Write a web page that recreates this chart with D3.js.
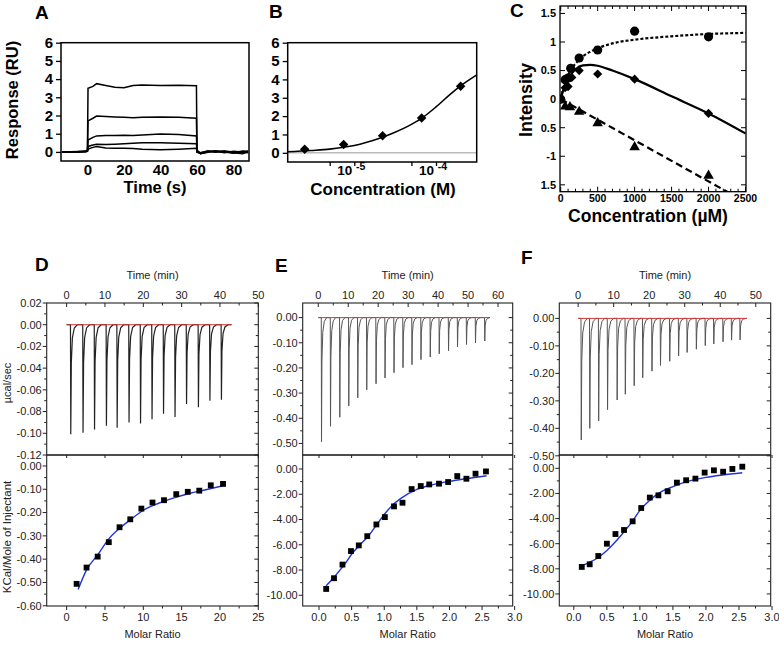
<!DOCTYPE html>
<html><head><meta charset="utf-8">
<script src="https://cdn.jsdelivr.net/npm/d3@7"></script>
<style>
body{margin:0;background:#fff}
svg{display:block}
text{font-family:"Liberation Sans",Arial,sans-serif}
</style>
</head><body>
<svg id="c" width="779" height="645"></svg>
<script>
// ---------------- DATA ----------------
// Panel A: SPR sensorgrams (time in s, response in RU)
const sprTime = [-14, -5, -1, 0, 0.3, 3, 5, 10, 15, 20, 25, 30, 40, 50, 59.7, 60, 62, 66, 70, 75, 80, 85, 88];
const sprCurve1 = [0, 0, 0.02, 0.03, 0.15, 0.25, 0.3, 0.22, 0.2, 0.2, 0.18, 0.15, 0.12, 0.15, 0.2, -0.02, -0.05, 0.05, 0, 0.03, -0.05, -0.1, 0];
const sprCurve2 = [0, 0.02, 0, 0.05, 0.3, 0.38, 0.42, 0.4, 0.42, 0.45, 0.47, 0.5, 0.5, 0.48, 0.45, 0, -0.08, -0.02, 0.05, 0, -0.08, 0.02, 0.05];
const sprCurve3 = [0, 0, 0.03, 0.05, 0.65, 0.8, 0.88, 0.9, 0.9, 0.92, 0.9, 0.93, 0.98, 0.95, 0.88, 0.02, -0.1, 0.02, 0.05, -0.05, 0.03, 0, -0.05];
const sprCurve4 = [0, 0.01, 0.03, 0.08, 1.7, 1.85, 1.97, 1.95, 1.92, 1.9, 1.88, 1.9, 1.92, 1.9, 1.85, 0.05, -0.05, 0.05, -0.02, 0.05, 0, -0.05, 0.02];
const sprCurve5 = [0, 0.02, 0.05, 0.1, 3.5, 3.6, 3.75, 3.65, 3.55, 3.52, 3.65, 3.68, 3.65, 3.66, 3.63, 0.1, -0.1, 0, 0.05, 0.02, -0.05, 0.05, 0];
const sprYTicks = [0, 1, 2, 3, 4, 5, 6];
const sprXTicks = [0, 20, 40, 60, 80];

// Panel B: steady-state response vs concentration (M)
const bConc = [2.47e-6, 7.4e-6, 2.22e-5, 6.67e-5, 2.0e-4];
const bResp = [0.2, 0.45, 0.93, 1.9, 3.63];
const bFitConc = [1.5e-6, 3e-6, 5e-6, 7.4e-6, 1e-5, 2e-5, 3e-5, 5e-5, 7e-5, 1e-4, 1.5e-4, 2e-4, 3.16e-4];
const bFitResp = [0.06, 0.13, 0.2, 0.3, 0.4, 0.78, 1.08, 1.55, 1.95, 2.5, 3.2, 3.65, 4.25];
const bXTicks = [5e-6, 1e-5, 5e-5, 1e-4];
const bXLabels = [1e-5, 1e-4];

// Panel C: intensity vs concentration (µM)
const cCircX = [0, 60, 100, 135, 250, 500, 1000, 2000];
const cCircY = [0, 0.34, 0.37, 0.54, 0.72, 0.86, 1.19, 1.09];
const cDiamX = [0, 60, 100, 150, 250, 500, 1000, 2000];
const cDiamY = [0, 0.2, 0.22, 0.38, 0.5, 0.44, 0.35, -0.25];
const cTriX = [60, 125, 250, 500, 1000, 2000];
const cTriY = [-0.13, -0.14, -0.22, -0.42, -0.84, -1.34];
const cFitSatX = [0, 25, 50, 100, 150, 200, 300, 400, 500, 750, 1000, 1500, 2000, 2500];
const cFitSatY = [0, 0.14, 0.25, 0.42, 0.54, 0.62, 0.75, 0.83, 0.89, 0.99, 1.04, 1.10, 1.14, 1.16];
const cFitBiX = [0, 50, 100, 150, 200, 300, 400, 500, 700, 1000, 1500, 2000, 2500];
const cFitBiY = [0, 0.22, 0.36, 0.45, 0.52, 0.59, 0.6, 0.585, 0.5, 0.35, 0.05, -0.25, -0.6];
const cFitLinX = [0, 2500];
const cFitLinY = [0, -1.8];
const cYTicks = [1.5, 1, 0.5, 0, -0.5, -1, -1.5];
const cYLabels = ["1.5", "1", "0.5", "0", "0.5", "-1", "1.5"];
const cXTicks = [0, 500, 1000, 1500, 2000, 2500];

// Panel D: ITC
const dInjTime = [1.0, 4.2, 7.2, 10.3, 13.1, 16.2, 19.2, 22.2, 25.2, 28.2, 31.2, 34.3, 37.3, 40.3];
const dInjPeak = [-0.101, -0.0995, -0.0965, -0.093, -0.095, -0.090, -0.091, -0.087, -0.082, -0.085, -0.073, -0.076, -0.070, -0.069];
const dRatio = [1.3, 2.6, 4.05, 5.5, 6.9, 8.3, 9.75, 11.2, 12.7, 14.3, 15.8, 17.3, 18.8, 20.4];
const dHeat = [-0.506, -0.436, -0.389, -0.327, -0.263, -0.229, -0.183, -0.157, -0.147, -0.121, -0.111, -0.106, -0.083, -0.077];
const dFitRatio = [1.5, 2.6, 4.1, 5.5, 7.0, 8.3, 10, 12, 14, 16, 18, 20.4];
const dFitHeat = [-0.53, -0.446, -0.379, -0.313, -0.265, -0.231, -0.19, -0.16, -0.137, -0.118, -0.103, -0.085];

// Panel E: ITC
const eInjTime = [1.0, 4.0, 7.1, 10.1, 13.1, 16.1, 19.2, 22.2, 25.2, 28.2, 31.2, 34.2, 37.3, 40.3, 43.4, 46.4, 49.4, 52.4, 55.5];
const eInjPeak = [-0.493, -0.432, -0.396, -0.351, -0.319, -0.287, -0.263, -0.24, -0.219, -0.199, -0.187, -0.167, -0.157, -0.144, -0.132, -0.116, -0.107, -0.1, -0.093];
const eRatio = [0.11, 0.23, 0.36, 0.49, 0.61, 0.74, 0.88, 1.01, 1.15, 1.28, 1.42, 1.56, 1.69, 1.84, 1.98, 2.12, 2.26, 2.40, 2.56];
const eHeat = [-9.5, -8.65, -7.57, -6.5, -6.05, -5.32, -4.39, -3.81, -2.96, -2.67, -1.59, -1.35, -1.22, -1.16, -1.03, -0.56, -0.77, -0.37, -0.19];
const eFitRatio = [0.11, 0.25, 0.4, 0.5, 0.62, 0.75, 0.88, 1.0, 1.12, 1.25, 1.5, 1.75, 2.0, 2.25, 2.57];
const eFitHeat = [-9.25, -8.45, -7.5, -6.75, -6.05, -5.35, -4.45, -3.6, -2.9, -2.35, -1.62, -1.24, -0.98, -0.77, -0.53];

// Panel F: ITC
const fInjTime = [0.8, 3.2, 5.7, 8.2, 10.9, 13.2, 15.7, 18.1, 20.7, 23.1, 25.7, 28.2, 30.6, 33.2, 35.7, 38.1, 40.7, 43.1, 45.5];
const fInjPeak = [-0.442, -0.4, -0.373, -0.332, -0.297, -0.276, -0.245, -0.216, -0.192, -0.171, -0.156, -0.137, -0.124, -0.112, -0.099, -0.093, -0.085, -0.079, -0.078];
const fRatio = [0.12, 0.24, 0.37, 0.50, 0.63, 0.76, 0.89, 1.02, 1.15, 1.28, 1.42, 1.56, 1.70, 1.84, 1.98, 2.12, 2.26, 2.40, 2.55];
const fHeat = [-7.85, -7.64, -6.98, -6.0, -5.23, -4.91, -4.22, -3.16, -2.33, -2.15, -1.83, -1.14, -0.95, -0.82, -0.34, -0.16, -0.27, -0.05, 0.13];
const fFitRatio = [0.12, 0.25, 0.37, 0.5, 0.63, 0.76, 0.89, 1.0, 1.15, 1.28, 1.5, 1.75, 2.0, 2.25, 2.55];
const fFitHeat = [-7.75, -7.45, -7.1, -6.55, -5.85, -5.05, -4.2, -3.35, -2.55, -2.0, -1.45, -1.0, -0.72, -0.53, -0.35];

// ---------------- DRAWING ----------------
const svg = d3.select("#c");
const zip = (a, b) => a.map((v, i) => [v, b[i]]);
const hy = s => s.replace(/\u2212/g, "-");

function panelLetter(txt, x, y) {
  svg.append("text").attr("x", x).attr("y", y).attr("font-size", 19).attr("font-weight", "bold").text(txt);
}

// ===== Panel A =====
(function () {
  const x = d3.scaleLinear([-14.5, 88.5], [61, 249]);
  const y = d3.scaleLinear([-0.5, 6], [161, 42.7]);
  const g = svg.append("g");
  const ay = g.append("g").attr("transform", `translate(${x.range()[0]},0)`)
    .call(d3.axisLeft(y).tickValues(sprYTicks).tickFormat(d3.format("d")).tickSize(5).tickPadding(3));
  ay.select(".domain").remove();
  ay.selectAll("text").attr("font-size", 15).attr("font-weight", "bold").attr("font-family", null);
  ay.selectAll("line").attr("stroke-width", 1.3);
  const ax = g.append("g").attr("transform", `translate(0,${y.range()[0]})`)
    .call(d3.axisBottom(x).tickValues(sprXTicks).tickFormat(d3.format("d")).tickSize(0).tickPadding(3));
  ax.select(".domain").remove();
  ax.selectAll("text").attr("font-size", 15).attr("font-weight", "bold").attr("font-family", null);
  const line = d3.line().x(d => x(d[0])).y(d => y(d[1]));
  [sprCurve1, sprCurve2, sprCurve3, sprCurve4, sprCurve5].forEach(c => {
    g.append("path").datum(zip(sprTime, c)).attr("d", line).attr("fill", "none").attr("stroke", "#000").attr("stroke-width", 1.5);
  });
  g.append("rect").attr("x", 61).attr("y", 42.7).attr("width", 249 - 61).attr("height", 161 - 42.7)
    .attr("fill", "none").attr("stroke", "#000").attr("stroke-width", 1.5);
  g.append("text").attr("transform", "translate(18,100) rotate(-90)").attr("text-anchor", "middle")
    .attr("font-size", 16.5).attr("font-weight", "bold").text("Response (RU)");
  g.append("text").attr("x", 155).attr("y", 193).attr("text-anchor", "middle")
    .attr("font-size", 16.5).attr("font-weight", "bold").text("Time (s)");
  panelLetter("A", 35, 19);
})();

// ===== Panel B =====
(function () {
  const x = d3.scaleLog([10 ** -5.815, 10 ** -3.502], [287.7, 476.7]);
  const y = d3.scaleLinear([-0.5, 6], [162, 42.7]);
  const g = svg.append("g");
  const ay = g.append("g").attr("transform", `translate(287.7,0)`)
    .call(d3.axisLeft(y).tickValues(sprYTicks).tickFormat(d3.format("d")).tickSize(5).tickPadding(3));
  ay.select(".domain").remove();
  ay.selectAll("text").attr("font-size", 15).attr("font-weight", "bold").attr("font-family", null);
  ay.selectAll("line").attr("stroke-width", 1.3);
  const ax = g.append("g").attr("transform", `translate(0,162)`)
    .call(d3.axisBottom(x).tickValues(bXTicks).tickSize(4).tickFormat(""));
  ax.select(".domain").remove();
  ax.selectAll("line").attr("stroke-width", 1.3);
  bXLabels.forEach(v => {
    const t = g.append("text").attr("x", x(v) - 3).attr("y", 175).attr("text-anchor", "middle")
      .attr("font-size", 13.5).attr("font-weight", "bold");
    t.append("tspan").text("10 ");
    t.append("tspan").attr("dy", -5).attr("font-size", 10.5).text(String(Math.round(Math.log10(v))));
  });
  g.append("line").attr("x1", 287.7).attr("x2", 476.7).attr("y1", y(0)).attr("y2", y(0))
    .attr("stroke", "#bbb").attr("stroke-width", 1.5);
  const line = d3.line().x(d => x(d[0])).y(d => y(d[1])).curve(d3.curveMonotoneX);
  g.append("path").datum(zip(bFitConc, bFitResp)).attr("d", line).attr("fill", "none").attr("stroke", "#000").attr("stroke-width", 1.6);
  const sym = d3.symbol(d3.symbolSquare, 45);
  g.selectAll("path.pt").data(zip(bConc, bResp)).join("path").attr("class", "pt")
    .attr("d", sym).attr("transform", d => `translate(${x(d[0])},${y(d[1])}) rotate(45)`).attr("fill", "#000");
  g.append("rect").attr("x", 287.7).attr("y", 42.7).attr("width", 476.7 - 287.7).attr("height", 162 - 42.7)
    .attr("fill", "none").attr("stroke", "#000").attr("stroke-width", 1.5);
  g.append("text").attr("x", 383).attr("y", 195).attr("text-anchor", "middle")
    .attr("font-size", 17).attr("font-weight", "bold").text("Concentration (M)");
  panelLetter("B", 269, 18);
})();

// ===== Panel C =====
(function () {
  const L = 560, R = 746, T = 6, B = 191.7;
  const x = d3.scaleLinear([0, 2500], [560.7, 745.5]);
  const y = d3.scaleLinear([-1.62, 1.63], [B, T]);
  const g = svg.append("g");
  g.append("clipPath").attr("id", "clipC").append("rect").attr("x", L).attr("y", T).attr("width", R - L).attr("height", B - T);
  const pg = g.append("g").attr("clip-path", "url(#clipC)");
  const line = d3.line().x(d => x(d[0])).y(d => y(d[1])).curve(d3.curveMonotoneX);
  pg.append("path").datum(zip(cFitSatX, cFitSatY)).attr("d", line).attr("fill", "none").attr("stroke", "#000")
    .attr("stroke-width", 2.2).attr("stroke-dasharray", "3,2");
  pg.append("path").datum(zip(cFitBiX, cFitBiY)).attr("d", line).attr("fill", "none").attr("stroke", "#000")
    .attr("stroke-width", 2.2);
  pg.append("path").datum(zip(cFitLinX, cFitLinY)).attr("d", line).attr("fill", "none").attr("stroke", "#000")
    .attr("stroke-width", 2.2).attr("stroke-dasharray", "7,4");
  pg.selectAll("circle.c").data(zip(cCircX, cCircY)).join("circle").attr("cx", d => x(d[0])).attr("cy", d => y(d[1])).attr("r", 4.6);
  const dsym = d3.symbol(d3.symbolSquare, 42);
  pg.selectAll("path.d").data(zip(cDiamX, cDiamY)).join("path").attr("class", "d").attr("d", dsym)
    .attr("transform", d => `translate(${x(d[0])},${y(d[1])}) rotate(45)`);
  const tsym = d3.symbol(d3.symbolTriangle, 48);
  pg.selectAll("path.t").data(zip(cTriX, cTriY)).join("path").attr("class", "t").attr("d", tsym)
    .attr("transform", d => `translate(${x(d[0])},${y(d[1])})`);
  const tk = g.append("g").attr("stroke", "#000").attr("stroke-width", 1);
  cYTicks.forEach(v => {
    tk.append("line").attr("x1", L).attr("x2", L + 5).attr("y1", y(v)).attr("y2", y(v));
    tk.append("line").attr("x1", R).attr("x2", R - 5).attr("y1", y(v)).attr("y2", y(v));
  });
  d3.range(0, 2501, 100).forEach(v => {
    const len = v % 500 === 0 ? 5 : 3;
    tk.append("line").attr("x1", x(v)).attr("x2", x(v)).attr("y1", B).attr("y2", B - len);
    tk.append("line").attr("x1", x(v)).attr("x2", x(v)).attr("y1", T).attr("y2", T + len);
  });
  g.append("rect").attr("x", L).attr("y", T).attr("width", R - L).attr("height", B - T)
    .attr("fill", "none").attr("stroke", "#000").attr("stroke-width", 1.3);
  cYTicks.forEach((v, i) => {
    g.append("text").attr("x", 556).attr("y", y(v)).attr("dy", "0.35em").attr("text-anchor", "end")
      .attr("font-size", 11).attr("font-weight", "bold").text(cYLabels[i]);
  });
  cXTicks.forEach(v => {
    g.append("text").attr("x", x(v)).attr("y", 201.5).attr("text-anchor", "middle")
      .attr("font-size", 10.5).attr("font-weight", "bold").text(v);
  });
  g.append("text").attr("transform", "translate(532,100) rotate(-90)").attr("text-anchor", "middle")
    .attr("font-size", 18).attr("font-weight", "bold").text("Intensity");
  g.append("text").attr("x", 648).attr("y", 221.5).attr("text-anchor", "middle")
    .attr("font-size", 17.5).attr("font-weight", "bold").text("Concentration (\u00B5M)");
  panelLetter("C", 510, 17);
})();

// ===== ITC panels =====
function drawITC(cfg) {
  const L = cfg.L, R = cfg.R, T = 303, S = 455, B = 606;
  const col = "#222";
  const xt = d3.scaleLinear(cfg.timeDomain, [L, R]);
  const yt = d3.scaleLinear(cfg.topDomain, [S, T]);
  const xr = d3.scaleLinear(cfg.ratioDomain, [L, R]);
  const yb = d3.scaleLinear(cfg.botDomain, [B, S]);
  const g = svg.append("g");
  const ticks = g.append("g").attr("stroke", "#222").attr("stroke-width", 1);
  const lbl = g.append("g").attr("fill", col).attr("font-size", 11);

  cfg.topTicks.forEach(v => {
    ticks.append("line").attr("x1", L - 4).attr("x2", L).attr("y1", yt(v)).attr("y2", yt(v));
    ticks.append("line").attr("x1", R - 4).attr("x2", R).attr("y1", yt(v)).attr("y2", yt(v));
    lbl.append("text").attr("x", L - 5).attr("y", yt(v)).attr("dy", "0.35em").attr("text-anchor", "end").text(hy(d3.format(".2f")(v)));
  });
  cfg.topMinor.forEach(v => {
    ticks.append("line").attr("x1", L - 2.5).attr("x2", L).attr("y1", yt(v)).attr("y2", yt(v));
    ticks.append("line").attr("x1", R - 2.5).attr("x2", R).attr("y1", yt(v)).attr("y2", yt(v));
  });
  cfg.timeTicks.forEach(v => {
    ticks.append("line").attr("x1", xt(v)).attr("x2", xt(v)).attr("y1", T).attr("y2", T + 4);
    lbl.append("text").attr("x", xt(v)).attr("y", T - 4).attr("text-anchor", "middle").text(v);
  });
  cfg.timeMinor.forEach(v => {
    ticks.append("line").attr("x1", xt(v)).attr("x2", xt(v)).attr("y1", T).attr("y2", T + 2.5);
  });
  lbl.append("text").attr("x", (L + R) / 2).attr("y", 279).attr("text-anchor", "middle").text("Time (min)");

  cfg.botTicks.forEach(v => {
    ticks.append("line").attr("x1", L - 4).attr("x2", L).attr("y1", yb(v)).attr("y2", yb(v));
    ticks.append("line").attr("x1", R - 4).attr("x2", R).attr("y1", yb(v)).attr("y2", yb(v));
    lbl.append("text").attr("x", L - 5).attr("y", yb(v)).attr("dy", "0.35em").attr("text-anchor", "end").text(hy(d3.format(".2f")(v)));
  });
  cfg.botMinor.forEach(v => {
    ticks.append("line").attr("x1", L - 2.5).attr("x2", L).attr("y1", yb(v)).attr("y2", yb(v));
    ticks.append("line").attr("x1", R - 2.5).attr("x2", R).attr("y1", yb(v)).attr("y2", yb(v));
  });
  cfg.ratioTicks.forEach(v => {
    ticks.append("line").attr("x1", xr(v)).attr("x2", xr(v)).attr("y1", B).attr("y2", B + 4);
    ticks.append("line").attr("x1", xr(v)).attr("x2", xr(v)).attr("y1", S).attr("y2", S + 3);
    lbl.append("text").attr("x", xr(v)).attr("y", B + 15).attr("text-anchor", "middle").text(d3.format(cfg.ratioFmt)(v));
  });
  cfg.ratioMinor.forEach(v => {
    ticks.append("line").attr("x1", xr(v)).attr("x2", xr(v)).attr("y1", B).attr("y2", B + 2.5);
  });
  lbl.append("text").attr("x", (L + R) / 2).attr("y", 638).attr("text-anchor", "middle").text("Molar Ratio");

  // raw thermogram: each injection drawn from its time and peak height
  const trace = [[cfg.traceStart, 0]];
  cfg.injTime.forEach((t, i) => {
    const p = cfg.injPeak[i];
    trace.push([t, 0], [t + 0.08, p], [t + 0.22, p * 0.35], [t + 0.5, p * 0.12], [t + 1.0, p * 0.03], [t + 1.8, 0]);
  });
  trace.push([cfg.traceEnd, 0]);
  const lt = d3.line().x(d => xt(d[0])).y(d => yt(d[1]));
  g.append("path").datum(trace).attr("d", lt).attr("fill", "none").attr("stroke", cfg.traceColor).attr("stroke-width", cfg.traceWidth);
  g.append("path").datum([[cfg.traceStart, 0], [cfg.traceEnd, 0]]).attr("d", lt).attr("fill", "none")
    .attr("stroke", "#d03a3a").attr("stroke-width", 1);

  const lb = d3.line().x(d => xr(d[0])).y(d => yb(d[1])).curve(d3.curveMonotoneX);
  g.append("path").datum(zip(cfg.fitRatio, cfg.fitHeat)).attr("d", lb).attr("fill", "none")
    .attr("stroke", "#1f35d6").attr("stroke-width", 1.4);
  const sq = d3.symbol(d3.symbolSquare, 34);
  g.selectAll("path.sq").data(zip(cfg.ratio, cfg.heat)).join("path").attr("class", "sq")
    .attr("d", sq).attr("transform", d => `translate(${xr(d[0])},${yb(d[1])})`).attr("fill", "#000");

  g.append("rect").attr("x", L).attr("y", T).attr("width", R - L).attr("height", S - T)
    .attr("fill", "none").attr("stroke", "#222").attr("stroke-width", 1.1);
  g.append("rect").attr("x", L).attr("y", S).attr("width", R - L).attr("height", B - S)
    .attr("fill", "none").attr("stroke", "#222").attr("stroke-width", 1.1);

  if (cfg.yTitles) {
    lbl.append("text").attr("transform", "translate(11,383) rotate(-90)").attr("text-anchor", "middle").text("\u00B5cal/sec");
    lbl.append("text").attr("transform", "translate(11,537) rotate(-90)").attr("text-anchor", "middle").attr("font-size", 11.5).text("KCal/Mole of Injectant");
  }
  panelLetter(cfg.letter, cfg.letterX, cfg.letterY);
}

drawITC({
  letter: "D", letterX: 35, letterY: 271, L: 46.7, R: 258.3, yTitles: true,
  timeDomain: [-5.2, 50], timeTicks: [0, 10, 20, 30, 40, 50], timeMinor: [5, 15, 25, 35, 45],
  topDomain: [-0.12, 0.02], topTicks: [0.02, 0, -0.02, -0.04, -0.06, -0.08, -0.10, -0.12],
  topMinor: [0.01, -0.01, -0.03, -0.05, -0.07, -0.09, -0.11],
  ratioDomain: [-2.6, 25], ratioTicks: [0, 5, 10, 15, 20, 25], ratioMinor: [2.5, 7.5, 12.5, 17.5, 22.5], ratioFmt: "d",
  botDomain: [-0.601, 0.047], botTicks: [0, -0.1, -0.2, -0.3, -0.4, -0.5, -0.6],
  botMinor: [-0.05, -0.15, -0.25, -0.35, -0.45, -0.55],
  injTime: dInjTime, injPeak: dInjPeak, traceStart: 0, traceEnd: 43, traceColor: "#222", traceWidth: 1.2,
  ratio: dRatio, heat: dHeat, fitRatio: dFitRatio, fitHeat: dFitHeat
});
drawITC({
  letter: "E", letterX: 275, letterY: 272, L: 302.7, R: 512.7, yTitles: false,
  timeDomain: [-5.2, 64.9], timeTicks: [0, 10, 20, 30, 40, 50, 60], timeMinor: [5, 15, 25, 35, 45, 55],
  topDomain: [-0.546, 0.058], topTicks: [0, -0.1, -0.2, -0.3, -0.4, -0.5],
  topMinor: [-0.05, -0.15, -0.25, -0.35, -0.45],
  ratioDomain: [-0.25, 2.97], ratioTicks: [0, 0.5, 1, 1.5, 2, 2.5, 3], ratioMinor: [0.25, 0.75, 1.25, 1.75, 2.25, 2.75], ratioFmt: ".1f",
  botDomain: [-10.85, 1.11], botTicks: [0, -2, -4, -6, -8, -10],
  botMinor: [-1, -3, -5, -7, -9],
  injTime: eInjTime, injPeak: eInjPeak, traceStart: 0, traceEnd: 57, traceColor: "#555", traceWidth: 1,
  ratio: eRatio, heat: eHeat, fitRatio: eFitRatio, fitHeat: eFitHeat
});
drawITC({
  letter: "F", letterX: 521, letterY: 264, L: 559.3, R: 770.7, yTitles: false,
  timeDomain: [-5.3, 54.2], timeTicks: [0, 10, 20, 30, 40, 50], timeMinor: [5, 15, 25, 35, 45],
  topDomain: [-0.497, 0.056], topTicks: [0, -0.1, -0.2, -0.3, -0.4, -0.5],
  topMinor: [-0.05, -0.15, -0.25, -0.35, -0.45],
  ratioDomain: [-0.22, 2.98], ratioTicks: [0, 0.5, 1, 1.5, 2, 2.5, 3], ratioMinor: [0.25, 0.75, 1.25, 1.75, 2.25, 2.75], ratioFmt: ".1f",
  botDomain: [-10.96, 1.06], botTicks: [0, -2, -4, -6, -8, -10],
  botMinor: [-1, -3, -5, -7, -9],
  injTime: fInjTime, injPeak: fInjPeak, traceStart: 0, traceEnd: 47.5, traceColor: "#555", traceWidth: 1,
  ratio: fRatio, heat: fHeat, fitRatio: fFitRatio, fitHeat: fFitHeat
});
</script>
</body></html>
